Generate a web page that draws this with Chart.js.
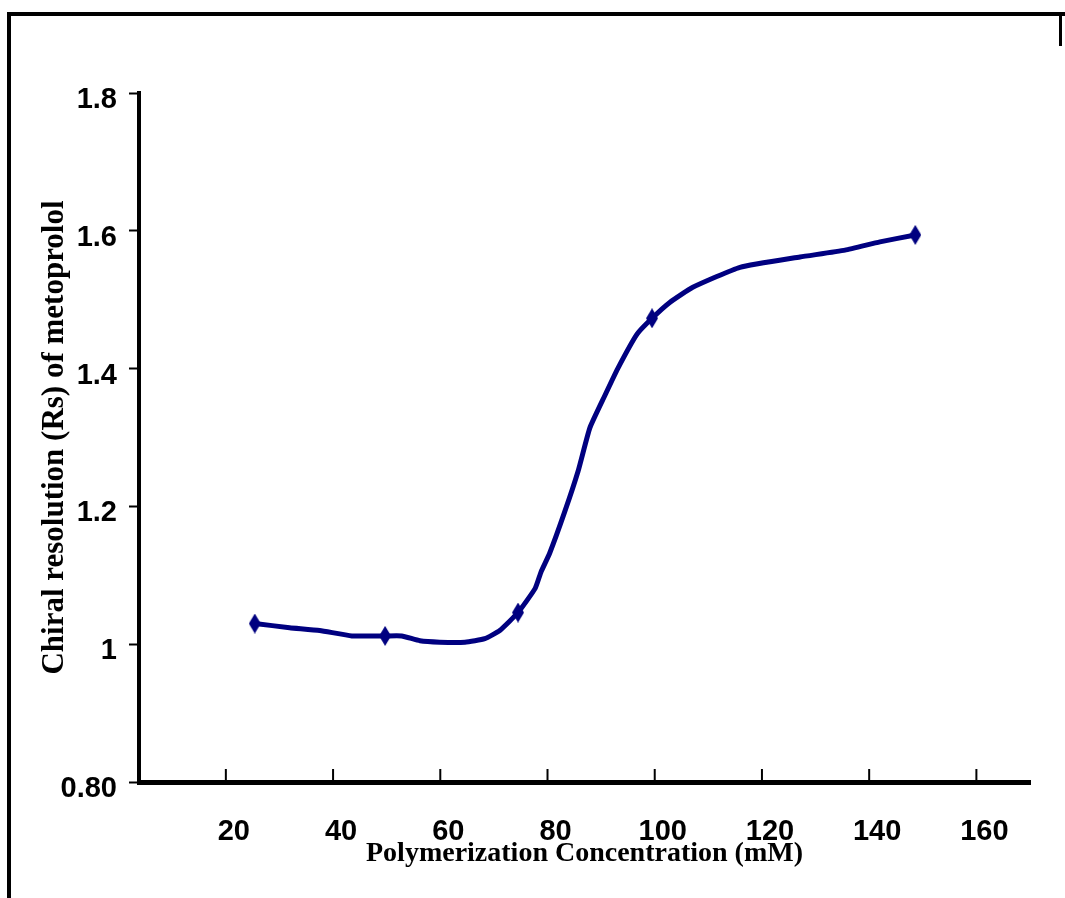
<!DOCTYPE html>
<html>
<head>
<meta charset="utf-8">
<title>Chiral resolution vs polymerization concentration</title>
<script src="https://cdn.jsdelivr.net/npm/chart.js@4.4.0/dist/chart.umd.min.js"></script>
<style>
  html, body { margin: 0; padding: 0; background: #fff; }
  #wrap { position: relative; width: 1065px; height: 898px; overflow: hidden; }
  #wrap canvas { position: absolute; left: 0; top: 0; }
  .frame { position: absolute; background: #000; }
  #frameTop { left: 7px; top: 12px; width: 1058px; height: 4px; }
  #frameLeft { left: 7px; top: 12px; width: 4px; height: 886px; }
  #frameRight { left: 1059px; top: 12px; width: 3px; height: 34px; }
</style>
</head>
<body>
<div id="wrap">
  <canvas id="myChart" width="1065" height="898"></canvas>
  <div class="frame" id="frameTop"></div>
  <div class="frame" id="frameLeft"></div>
  <div class="frame" id="frameRight"></div>
</div>
<script>
'use strict'

// Data
const concentration = [25.4, 31.9, 37.5, 43.5, 49.7, 52.8, 56.2, 59.9, 64.6, 68.3, 71.1, 74.5,
  77.7, 78.8, 80.4, 83.2, 85.7, 87.9, 90.7, 93.1, 96.7, 99.5, 102.8, 107.1, 115.9, 127.1,
  135.5, 142.0, 148.6];
const resolution = [1.030, 1.024, 1.020, 1.012, 1.012, 1.012, 1.005, 1.003, 1.003, 1.008, 1.020, 1.046,
  1.081, 1.105, 1.132, 1.192, 1.251, 1.314, 1.361, 1.400, 1.450, 1.473, 1.496, 1.518, 1.547, 1.562,
  1.572, 1.584, 1.594];
// points that carry a marker
const markedConcentrations = [25.4, 49.7, 74.5, 99.5, 148.6];

const xTickValues = [20, 40, 60, 80, 100, 120, 140, 160];
const yTickValues = [0.8, 1, 1.2, 1.4, 1.6, 1.8];
const yTickLabels = ['0.80', '1', '1.2', '1.4', '1.6', '1.8'];

const navy = '#000080';
const tickFont = { family: "'Liberation Sans Narrow', 'Arial Narrow', 'Liberation Sans', Arial, sans-serif", size: 29, weight: 'bold' };
const xTitleFont = { family: "'Liberation Serif', 'Times New Roman', serif", size: 28, weight: 'bold' };
const yTitleFont = { family: "'Liberation Serif', 'Times New Roman', serif", size: 31, weight: 'bold' };

// slim diamond marker like the original
function makeDiamond() {
  const c = document.createElement('canvas');
  c.width = 12;
  c.height = 20;
  const g = c.getContext('2d');
  g.fillStyle = navy;
  g.beginPath();
  g.moveTo(6, 0);
  g.lineTo(12, 10);
  g.lineTo(6, 20);
  g.lineTo(0, 10);
  g.closePath();
  g.fill();
  return c;
}
const diamond = makeDiamond();

let points = [];
let radii = [];
for (let i = 0; i < concentration.length; i++) {
  points.push({ x: concentration[i], y: resolution[i] });
  radii.push(markedConcentrations.includes(concentration[i]) ? 6 : 0);
}

// small upward tick marks on the x axis
const innerTicks = {
  id: 'innerTicks',
  afterDraw(chart) {
    const ctx = chart.ctx;
    const xs = chart.scales.x;
    const bottom = chart.chartArea.bottom;
    ctx.save();
    ctx.strokeStyle = '#000';
    ctx.lineWidth = 2;
    for (let i = 0; i < xTickValues.length; i++) {
      let px = xs.getPixelForValue(xTickValues[i]);
      ctx.beginPath();
      ctx.moveTo(px, bottom - 13);
      ctx.lineTo(px, bottom);
      ctx.stroke();
    }
    ctx.restore();
  }
};

const config = {
  type: 'line',
  data: {
    datasets: [{
      label: 'Rs',
      data: points,
      borderColor: navy,
      backgroundColor: navy,
      borderWidth: 5,
      tension: 0.15,
      borderJoinStyle: 'round',
      borderCapStyle: 'round',
      pointStyle: diamond,
      pointRadius: radii,
      pointHoverRadius: radii
    }]
  },
  options: {
    responsive: false,
    animation: false,
    events: [],
    layout: { padding: { top: 93, right: 35, left: 0, bottom: 0 } },
    plugins: {
      legend: { display: false },
      tooltip: { enabled: false }
    },
    scales: {
      x: {
        type: 'linear',
        min: 3.8,
        max: 170,
        afterFit(scale) { scale.height = 116; },
        afterBuildTicks(scale) { scale.ticks = xTickValues.map(v => ({ value: v })); },
        grid: { display: true, drawOnChartArea: false, drawTicks: false },
        border: { display: true, color: '#000', width: 5 },
        ticks: {
          color: '#000',
          font: tickFont,
          padding: 33,
          labelOffset: 8,
          autoSkip: false,
          maxRotation: 0
        },
        title: {
          display: true,
          text: 'Polymerization Concentration (mM)',
          color: '#000',
          font: xTitleFont,
          padding: { top: 0, bottom: 27 }
        }
      },
      y: {
        type: 'linear',
        min: 0.8,
        max: 1.8,
        afterFit(scale) { scale.width = 139; },
        afterBuildTicks(scale) { scale.ticks = yTickValues.map(v => ({ value: v })); },
        grid: { display: true, drawOnChartArea: false, drawTicks: true, tickLength: 10, tickWidth: 2, tickColor: '#000' },
        border: { display: true, color: '#000', width: 4 },
        ticks: {
          color: '#000',
          font: tickFont,
          padding: 12,
          labelOffset: 7,
          callback: function (value, index) { return yTickLabels[index]; }
        },
        title: {
          display: true,
          text: 'Chiral resolution (Rs) of metoprolol',
          color: '#000',
          font: yTitleFont,
          padding: { top: 36, bottom: 0 }
        }
      }
    }
  },
  plugins: [innerTicks]
};

let canvasChart = document.getElementById('myChart');
const myChart = new Chart(canvasChart, config);
</script>
</body>
</html>
